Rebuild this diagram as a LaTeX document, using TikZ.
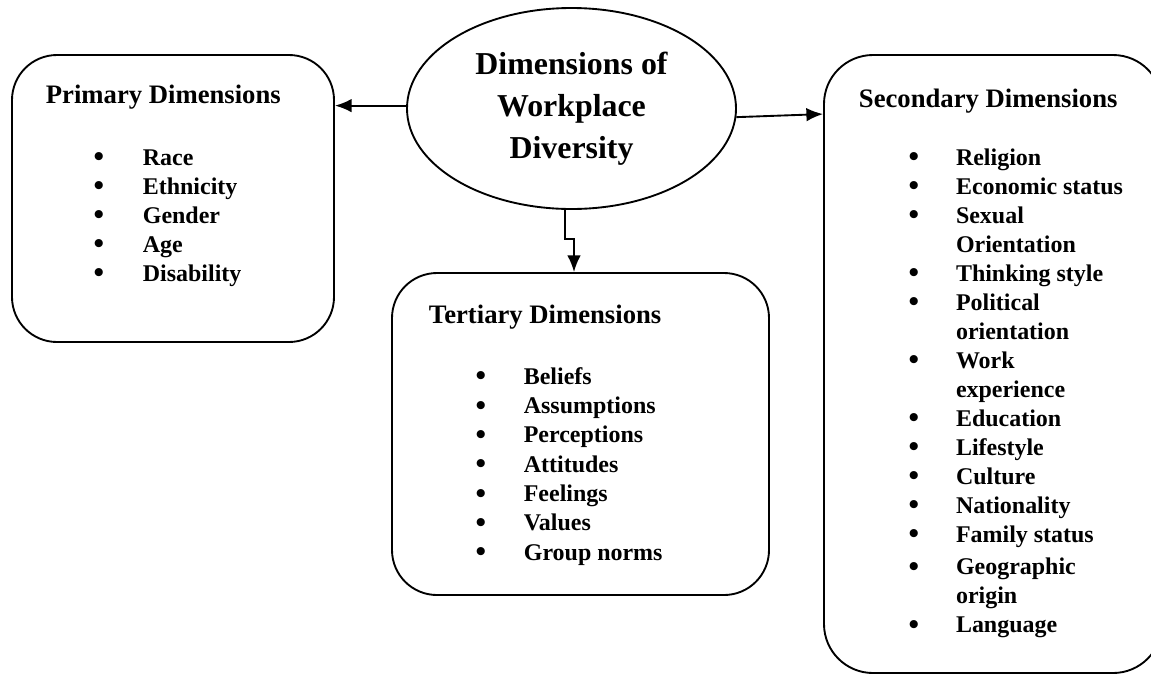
\documentclass[tikz,border=0pt]{standalone}
\usepackage{fontspec}
\setmainfont{Liberation Serif}
\usetikzlibrary{calc,shapes.geometric,arrows.meta}
\newcommand{\itm}{\makebox[0pt]{\raisebox{-0.08em}{\scalebox{1.25}{\textbullet}}}}

\begin{document}
\begin{tikzpicture}[x=0.48pt,y=-0.48pt,line width=0.9pt,
    box/.style={draw,rounded corners=21.6pt,inner sep=0pt},
    head/.style={anchor=base west,inner sep=0pt,font=\fontsize{12.8}{15}\selectfont\bfseries},
    lst/.style={anchor=base west,inner sep=0pt,font=\fontsize{11.5}{13.92}\selectfont\bfseries},
    arr/.style={-{Latex[length=8pt,width=6.5pt]}}]
    \useasboundingbox (0,0) rectangle (1151,675);
    \node[draw,ellipse,inner sep=0pt,minimum width=157.92pt,minimum height=96.48pt,align=center,font=\fontsize{15.3}{20.2}\selectfont\bfseries] at (571.5,108.5) (D) {Dimensions of\\Workplace\\Diversity};
    \node[box,minimum width=154.56pt,minimum height=137.76pt] at (173,198.5) (P) {};
    \node[box,minimum width=180.96pt,minimum height=154.56pt] at (580.5,434) (T) {};
    \node[box,rounded corners=23.5pt,minimum width=162.24pt,minimum height=296.64pt] at (993,364) (S) {};
    % headings
    \node[head] at (45,103) (Ph) {Primary Dimensions};
    \node[head] at (428,323) (Th) {Tertiary Dimensions};
    \node[head] at (858,107) (Sh) {Secondary Dimensions};
    % lists
    \node[lst] at (98,165) (Pl) {\begin{tabular}[t]{@{}l@{\hspace{21.1pt}}l@{}}
        \itm & Race\\ \itm & Ethnicity\\ \itm & Gender\\ \itm & Age\\ \itm & Disability
    \end{tabular}};
    \node[lst,font=\fontsize{11.5}{14.08}\selectfont\bfseries] at (480,384) (Tl) {\begin{tabular}[t]{@{}l@{\hspace{20.6pt}}l@{}}
        \itm & Beliefs\\ \itm & Assumptions\\ \itm & Perceptions\\ \itm & Attitudes\\
        \itm & Feelings\\ \itm & Values\\ \itm & Group norms
    \end{tabular}};
    \node[lst] at (913,165) (Sl) {\begin{tabular}[t]{@{}l@{\hspace{20.2pt}}l@{}}
        \itm & Religion\\ \itm & Economic status\\ \itm & Sexual\\ & Orientation\\
        \itm & Thinking style\\ \itm & Political\\ & orientation\\ \itm & Work\\ & experience\\
        \itm & Education\\ \itm & Lifestyle\\ \itm & Culture\\ \itm & Nationality\\
        \itm & Family status\\[1.9pt] \itm & Geographic\\ & origin\\ \itm & Language
    \end{tabular}};
    % connectors
    \draw[arr] (D.179) -- (D.179 -| P.east);
    \draw[arr] (D.357) -- ($(S.north west)+(0,60)$);
    \draw[arr] ($(D.south)+(-6.5,0)$) |- ($(T.north)+(-6.5,-33)$) -- ($(T.north)+(-6.5,0)$);
\end{tikzpicture}
\end{document}
